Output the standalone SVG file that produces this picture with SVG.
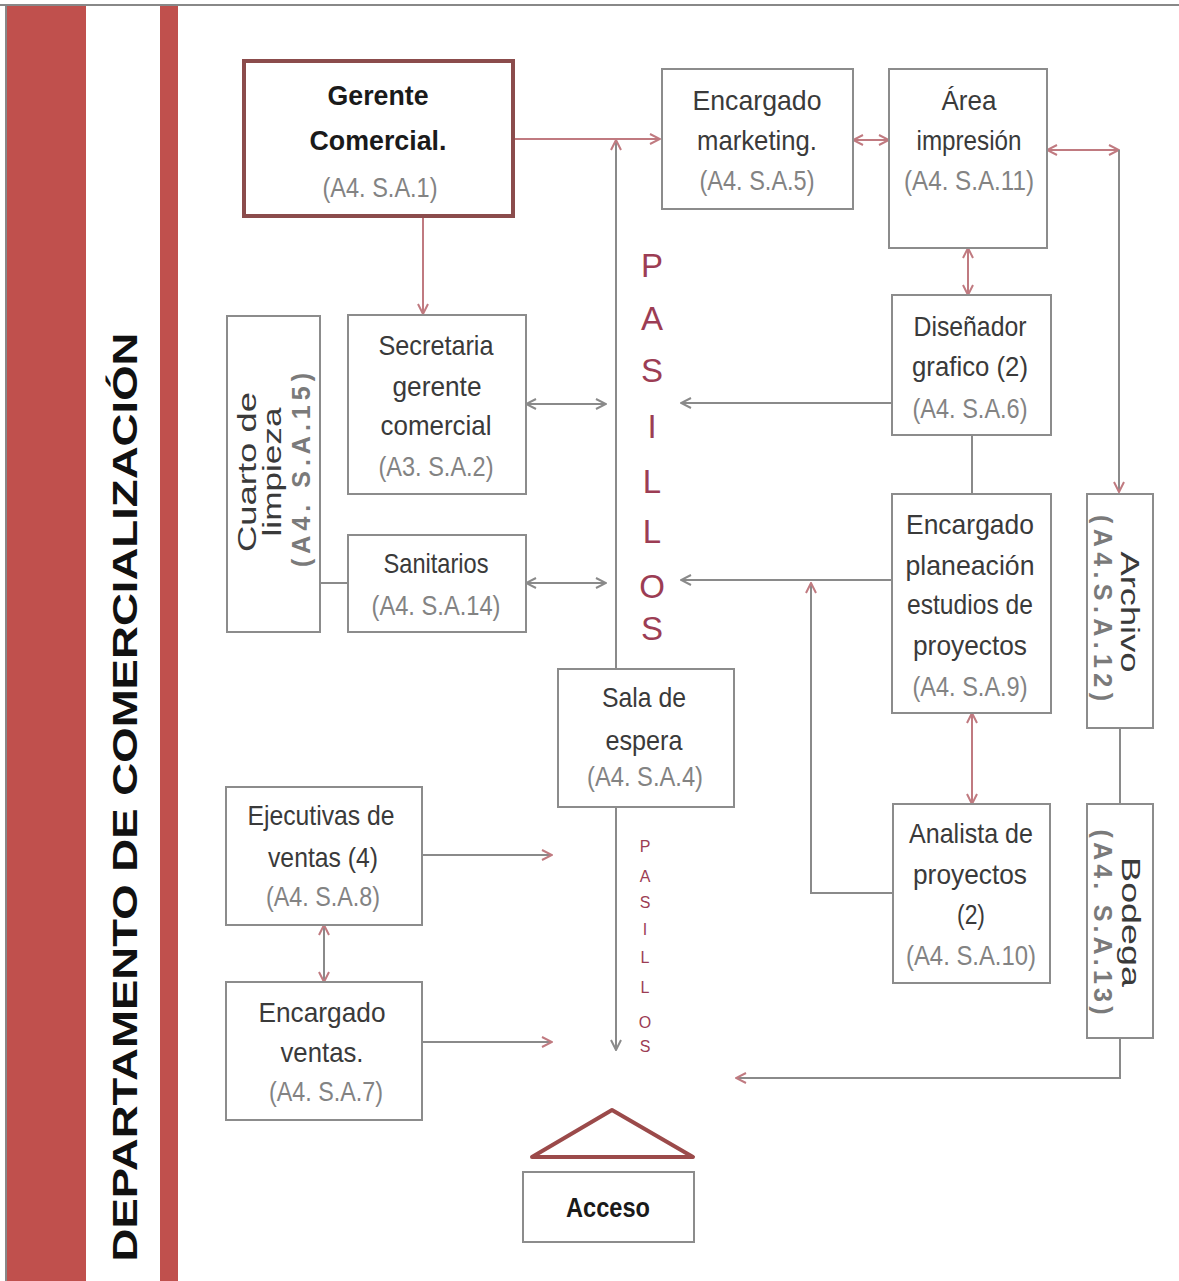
<svg xmlns="http://www.w3.org/2000/svg" width="1179" height="1281" viewBox="0 0 1179 1281">
<style>
.bx{fill:#fff;stroke:#8c8c8c;stroke-width:2}
.t{font-family:'Liberation Sans',Arial,sans-serif;font-size:28px;fill:#3a3a3a;text-anchor:middle}
.r{font-size:25px}
.c{fill:#838383}
.b{font-weight:bold;fill:#1a1a1a}
.rc{fill:#7a7a7a;font-weight:bold}
.pa{font-family:'Liberation Sans',Arial,sans-serif;fill:#9c3d54;text-anchor:middle}
.lr{fill:none;stroke:#c07a80;stroke-width:2}
.lg{fill:none;stroke:#8a8a8a;stroke-width:2}
</style>
<defs>
<marker id="ar" viewBox="0 0 12 12" refX="11" refY="6" markerWidth="12" markerHeight="12" markerUnits="userSpaceOnUse" orient="auto-start-reverse"><path d="M1,1 L11,6 L1,11" fill="none" stroke="#c07a80" stroke-width="2"/></marker>
<marker id="ag" viewBox="0 0 12 12" refX="11" refY="6" markerWidth="12" markerHeight="12" markerUnits="userSpaceOnUse" orient="auto-start-reverse"><path d="M1,1 L11,6 L1,11" fill="none" stroke="#8a8a8a" stroke-width="2"/></marker>
</defs>
<rect width="1179" height="1281" fill="#fff"/>
<g id="frame">
<line x1="0" y1="5" x2="1179" y2="5" stroke="#888" stroke-width="2"/>
<line x1="6" y1="5" x2="6" y2="1281" stroke="#888" stroke-width="2"/>
<rect x="7" y="6" width="79" height="1275" fill="#c0504d"/>
<rect x="160" y="6" width="18" height="1275" fill="#c0504d"/>
<text transform="translate(137,797) rotate(-90)" font-family="'Liberation Sans',Arial,sans-serif" font-size="35" font-weight="bold" fill="#111" text-anchor="middle" textLength="929" lengthAdjust="spacingAndGlyphs">DEPARTAMENTO DE  COMERCIALIZACIÓN</text>
</g>
<g id="connectors">
<path class="lr" d="M513 139 H660" marker-end="url(#ar)"/>
<path class="lg" d="M616 670 V140" marker-end="url(#ar)"/>
<path class="lg" d="M616 807 V1050" marker-end="url(#ag)"/>
<path class="lr" d="M423 216 V314" marker-end="url(#ar)"/>
<path class="lr" d="M853 140 H889" marker-start="url(#ar)" marker-end="url(#ar)"/>
<path class="lr" d="M1047 150 H1119" marker-start="url(#ar)" marker-end="url(#ar)"/>
<path class="lg" d="M1119 150 V492" marker-end="url(#ar)"/>
<path class="lr" d="M968 248 V295" marker-start="url(#ar)" marker-end="url(#ar)"/>
<path class="lg" d="M892 403 H681" marker-end="url(#ag)"/>
<path class="lg" d="M972 435 V494"/>
<path class="lg" d="M892 580 H681" marker-end="url(#ag)"/>
<path class="lg" d="M893 893 H811 V583" marker-end="url(#ar)"/>
<path class="lr" d="M972 713 V804" marker-start="url(#ar)" marker-end="url(#ar)"/>
<path class="lg" d="M1120 728 V804"/>
<path class="lg" d="M1120 1038 V1078 H736" marker-end="url(#ar)"/>
<path class="lg" d="M526 404 H606" marker-start="url(#ag)" marker-end="url(#ag)"/>
<path class="lg" d="M526 583 H606" marker-start="url(#ag)" marker-end="url(#ag)"/>
<path class="lg" d="M320 583 H348"/>
<path class="lg" d="M422 855 H552" marker-end="url(#ar)"/>
<path class="lg" d="M422 1042 H552" marker-end="url(#ar)"/>
<path class="lg" d="M324 925 V982" marker-start="url(#ar)" marker-end="url(#ar)"/>
</g>
<g id="pasillos">
<text class="pa" font-size="33" x="652" y="277">P</text>
<text class="pa" font-size="33" x="652" y="330">A</text>
<text class="pa" font-size="33" x="652" y="382">S</text>
<text class="pa" font-size="33" x="652" y="438">I</text>
<text class="pa" font-size="33" x="652" y="493">L</text>
<text class="pa" font-size="33" x="652" y="543">L</text>
<text class="pa" font-size="33" x="652" y="598">O</text>
<text class="pa" font-size="33" x="652" y="640">S</text>
</g>
<g id="pasillos2">
<text class="pa" font-size="16" x="645" y="852">P</text>
<text class="pa" font-size="16" x="645" y="882">A</text>
<text class="pa" font-size="16" x="645" y="908">S</text>
<text class="pa" font-size="16" x="645" y="935">I</text>
<text class="pa" font-size="16" x="645" y="963">L</text>
<text class="pa" font-size="16" x="645" y="993">L</text>
<text class="pa" font-size="16" x="645" y="1028">O</text>
<text class="pa" font-size="16" x="645" y="1052">S</text>
</g>
<g id="gerente">
<rect x="244" y="61" width="269" height="155" fill="#fff" stroke="#8b4c4c" stroke-width="4"/>
<text class="t b" x="378" y="105" textLength="101" lengthAdjust="spacingAndGlyphs">Gerente</text>
<text class="t b" x="378" y="150" textLength="137" lengthAdjust="spacingAndGlyphs">Comercial.</text>
<text class="t c" x="380" y="197" textLength="115" lengthAdjust="spacingAndGlyphs">(A4. S.A.1)</text>
</g>
<g id="marketing">
<rect class="bx" x="662" y="69" width="191" height="140"/>
<text class="t" x="757" y="110" textLength="129" lengthAdjust="spacingAndGlyphs">Encargado</text>
<text class="t" x="757" y="150" textLength="120" lengthAdjust="spacingAndGlyphs">marketing.</text>
<text class="t c" x="757" y="190" textLength="115" lengthAdjust="spacingAndGlyphs">(A4. S.A.5)</text>
</g>
<g id="impresion">
<rect class="bx" x="889" y="69" width="158" height="179"/>
<text class="t" x="969" y="110" textLength="55" lengthAdjust="spacingAndGlyphs">Área</text>
<text class="t" x="969" y="150" textLength="105" lengthAdjust="spacingAndGlyphs">impresión</text>
<text class="t c" x="969" y="190" textLength="130" lengthAdjust="spacingAndGlyphs">(A4. S.A.11)</text>
</g>
<g id="secretaria">
<rect class="bx" x="348" y="315" width="178" height="179"/>
<text class="t" x="436" y="355" textLength="115" lengthAdjust="spacingAndGlyphs">Secretaria</text>
<text class="t" x="437" y="396" textLength="89" lengthAdjust="spacingAndGlyphs">gerente</text>
<text class="t" x="436" y="435" textLength="111" lengthAdjust="spacingAndGlyphs">comercial</text>
<text class="t c" x="436" y="476" textLength="115" lengthAdjust="spacingAndGlyphs">(A3. S.A.2)</text>
</g>
<g id="sanitarios">
<rect class="bx" x="348" y="535" width="178" height="97"/>
<text class="t" x="436" y="573" textLength="105" lengthAdjust="spacingAndGlyphs">Sanitarios</text>
<text class="t c" x="436" y="615" textLength="129" lengthAdjust="spacingAndGlyphs">(A4. S.A.14)</text>
</g>
<g id="cuarto">
<rect class="bx" x="227" y="316" width="93" height="316"/>
<text class="t r" transform="translate(256,472) rotate(-90)" textLength="160" lengthAdjust="spacingAndGlyphs">Cuarto de</text>
<text class="t r" transform="translate(281,472) rotate(-90)" textLength="129" lengthAdjust="spacingAndGlyphs">limpieza</text>
<text class="t r rc" transform="translate(310,470) rotate(-90)" textLength="194" lengthAdjust="spacing">(A4. S.A.15)</text>
</g>
<g id="disenador">
<rect class="bx" x="892" y="295" width="159" height="140"/>
<text class="t" x="970" y="336" textLength="113" lengthAdjust="spacingAndGlyphs">Diseñador</text>
<text class="t" x="970" y="376" textLength="116" lengthAdjust="spacingAndGlyphs">grafico (2)</text>
<text class="t c" x="970" y="418" textLength="115" lengthAdjust="spacingAndGlyphs">(A4. S.A.6)</text>
</g>
<g id="planeacion">
<rect class="bx" x="892" y="494" width="159" height="219"/>
<text class="t" x="970" y="534" textLength="128" lengthAdjust="spacingAndGlyphs">Encargado</text>
<text class="t" x="970" y="575" textLength="129" lengthAdjust="spacingAndGlyphs">planeación</text>
<text class="t" x="970" y="614" textLength="126" lengthAdjust="spacingAndGlyphs">estudios de</text>
<text class="t" x="970" y="655" textLength="114" lengthAdjust="spacingAndGlyphs">proyectos</text>
<text class="t c" x="970" y="696" textLength="115" lengthAdjust="spacingAndGlyphs">(A4. S.A.9)</text>
</g>
<g id="archivo">
<rect class="bx" x="1087" y="494" width="66" height="234"/>
<text class="t r" transform="translate(1121,612) rotate(90)" textLength="121" lengthAdjust="spacingAndGlyphs">Archivo</text>
<text class="t r rc" transform="translate(1094,608) rotate(90)" textLength="186" lengthAdjust="spacing">(A4.S.A.12)</text>
</g>
<g id="analista">
<rect class="bx" x="893" y="804" width="157" height="179"/>
<text class="t" x="971" y="843" textLength="124" lengthAdjust="spacingAndGlyphs">Analista de</text>
<text class="t" x="970" y="884" textLength="114" lengthAdjust="spacingAndGlyphs">proyectos</text>
<text class="t" x="971" y="924" textLength="28" lengthAdjust="spacingAndGlyphs">(2)</text>
<text class="t c" x="971" y="965" textLength="130" lengthAdjust="spacingAndGlyphs">(A4. S.A.10)</text>
</g>
<g id="bodega">
<rect class="bx" x="1087" y="804" width="66" height="234"/>
<text class="t r" transform="translate(1122,922) rotate(90)" textLength="130" lengthAdjust="spacingAndGlyphs">Bodega</text>
<text class="t r rc" transform="translate(1094,922) rotate(90)" textLength="185" lengthAdjust="spacing">(A4. S.A.13)</text>
</g>
<g id="sala">
<rect class="bx" x="558" y="669" width="176" height="138"/>
<text class="t" x="644" y="707" textLength="84" lengthAdjust="spacingAndGlyphs">Sala de</text>
<text class="t" x="644" y="750" textLength="77" lengthAdjust="spacingAndGlyphs">espera</text>
<text class="t c" x="645" y="786" textLength="116" lengthAdjust="spacingAndGlyphs">(A4. S.A.4)</text>
</g>
<g id="ejecutivas">
<rect class="bx" x="226" y="787" width="196" height="138"/>
<text class="t" x="321" y="825" textLength="147" lengthAdjust="spacingAndGlyphs">Ejecutivas de</text>
<text class="t" x="323" y="867" textLength="110" lengthAdjust="spacingAndGlyphs">ventas (4)</text>
<text class="t c" x="323" y="906" textLength="114" lengthAdjust="spacingAndGlyphs">(A4. S.A.8)</text>
</g>
<g id="ventas">
<rect class="bx" x="226" y="982" width="196" height="138"/>
<text class="t" x="322" y="1022" textLength="127" lengthAdjust="spacingAndGlyphs">Encargado</text>
<text class="t" x="322" y="1062" textLength="83" lengthAdjust="spacingAndGlyphs">ventas.</text>
<text class="t c" x="326" y="1101" textLength="114" lengthAdjust="spacingAndGlyphs">(A4. S.A.7)</text>
</g>
<g id="acceso">
<polygon points="532,1157 612,1110 693,1157" fill="#fff" stroke="#9b4a4a" stroke-width="4" stroke-linejoin="round"/>
<rect class="bx" x="523" y="1172" width="171" height="70"/>
<text class="t b" x="608" y="1217" textLength="84" lengthAdjust="spacingAndGlyphs">Acceso</text>
</g>
</svg>
